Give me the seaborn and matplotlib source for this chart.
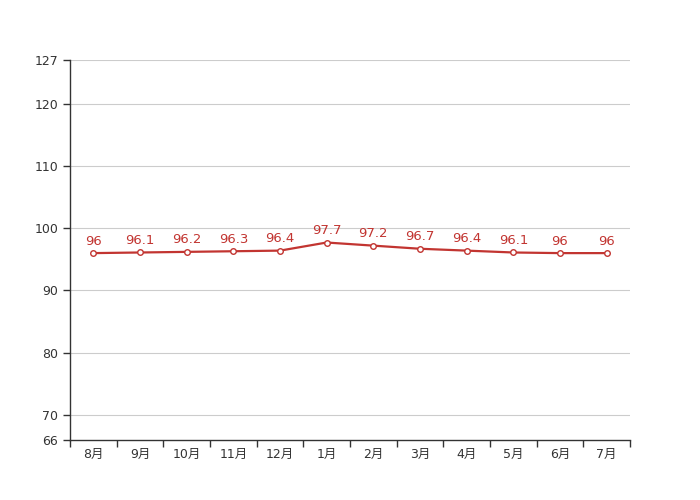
import matplotlib
matplotlib.use("Agg")
import matplotlib.pyplot as plt
import seaborn as sns
import pandas as pd
import numpy as np

months = ["8月", "9月", "10月", "11月", "12月", "1月", "2月", "3月", "4月", "5月", "6月", "7月"]
values = [96, 96.1, 96.2, 96.3, 96.4, 97.7, 97.2, 96.7, 96.4, 96.1, 96, 96]
labels = ["96", "96.1", "96.2", "96.3", "96.4", "97.7", "97.2", "96.7", "96.4", "96.1", "96", "96"]
yticks = [66, 70, 80, 90, 100, 110, 120, 127]

sns.set_style("white")
plt.rcParams['font.family'] = ['DejaVu Sans', 'Noto Sans CJK SC']

df = pd.DataFrame({"x": np.arange(len(months)), "v": values})

fig = plt.figure(figsize=(7, 5), dpi=100)
ax = fig.add_axes([0.1, 0.12, 0.8, 0.76])

red = "#c23531"
sns.lineplot(data=df, x="x", y="v", ax=ax, color=red, linewidth=1.6,
             marker="o", markersize=4, markerfacecolor="white",
             markeredgecolor=red, markeredgewidth=1)

for xi, v, t in zip(df["x"], values, labels):
    ax.annotate(t, (xi, v), xytext=(0, 4), textcoords="offset points",
                ha="center", va="bottom", color=red, fontsize=9.5)

ax.set_xlim(-0.5, len(months) - 0.5)
ax.set_ylim(66, 127)
ax.set_yticks(yticks)
ax.set_yticklabels([str(t) for t in yticks])
ax.set_xticks(np.arange(len(months)))
ax.set_xticklabels(months)
ax.set_xticks(np.arange(len(months) + 1) - 0.5, minor=True)
ax.tick_params(axis="x", which="major", bottom=True, length=0, pad=6, labelsize=9, labelcolor="#333333")
ax.tick_params(axis="x", which="minor", bottom=True, length=5, width=1, color="#333333", direction="out")
ax.tick_params(axis="y", left=True, length=5, width=1, color="#333333", labelsize=9, labelcolor="#333333", direction="out")
ax.set_xlabel("")
ax.set_ylabel("")

for y in yticks[1:]:
    ax.axhline(y, color="#cccccc", linewidth=0.8, zorder=0)

for s in ["top", "right"]:
    ax.spines[s].set_visible(False)
for s in ["left", "bottom"]:
    ax.spines[s].set_color("#333333")
    ax.spines[s].set_linewidth(1)

fig.savefig("out.png", dpi=100)
